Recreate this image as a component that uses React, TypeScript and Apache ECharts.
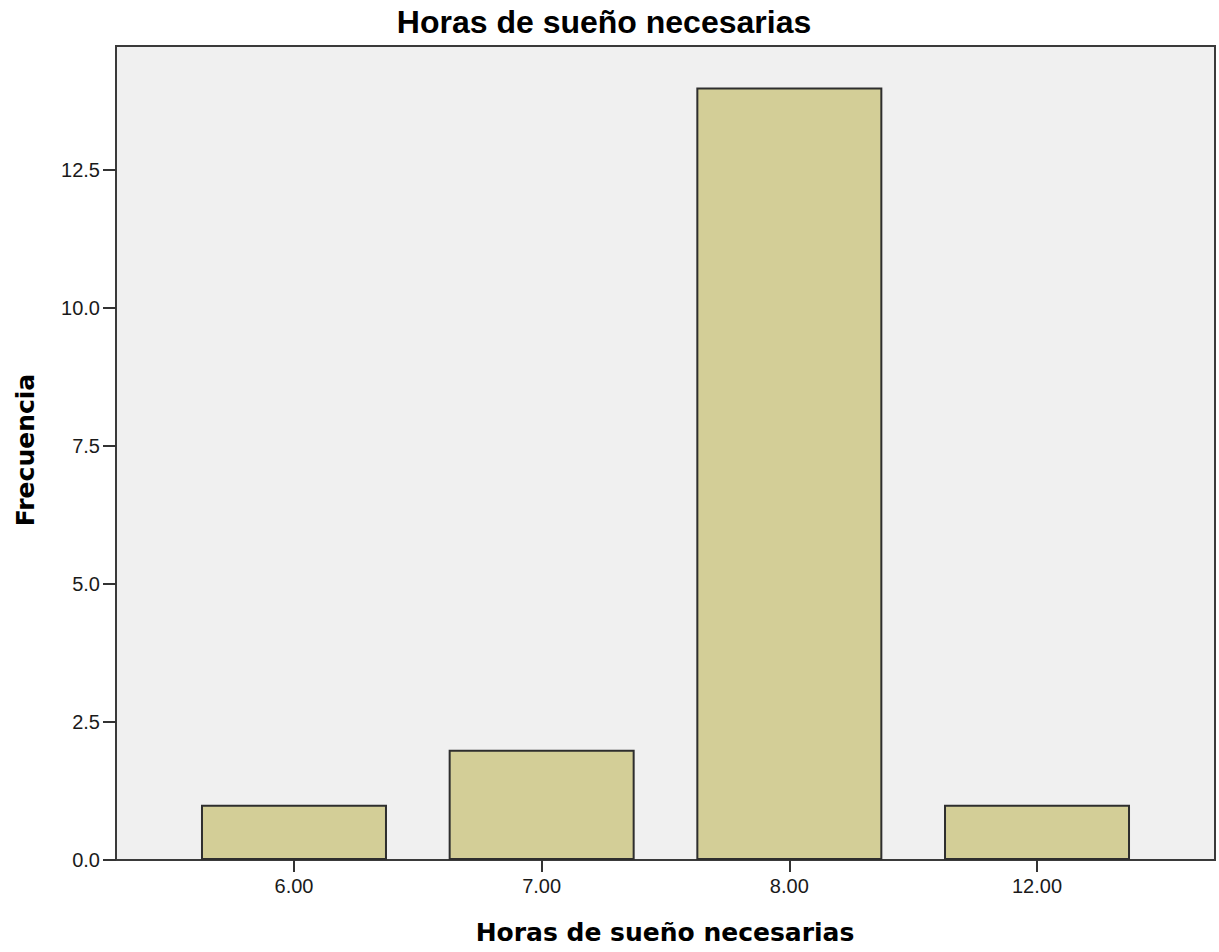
import React, { useEffect, useRef } from "react";
import * as echarts from "echarts";

const categories = ["6.00", "7.00", "8.00", "12.00"];
const frequencies = [1, 2, 14, 1];
const yTicks = [0, 2.5, 5, 7.5, 10, 12.5];
const yMax = 14.75;
const chartTitle = "Horas de sueño necesarias";
const xTitle = "Horas de sueño necesarias";
const yTitle = "Frecuencia";

export default function App() {
  const ref = useRef<HTMLDivElement>(null);
  useEffect(() => {
    if (!ref.current) return;
    const chart = echarts.init(ref.current, null, { renderer: "svg" });
    const labelFont = { fontFamily: "Liberation Sans, Arial, sans-serif", fontSize: 20, color: "#1a1a1a" };
    chart.setOption({
      animation: false,
      backgroundColor: "#ffffff",
      grid: [
        { left: 116, top: 46, width: 1099, height: 814, show: true, backgroundColor: "#f0f0f0", borderColor: "#3a3a3a", borderWidth: 2, z: 0 },
        { left: 170.15, top: 46, width: 990.7, height: 814 },
      ],
      xAxis: [
        { gridIndex: 0, type: "value", min: 0, max: 1, show: false },
        {
          gridIndex: 1,
          type: "category",
          data: categories,
          axisLine: { show: false },
          axisTick: { show: true, alignWithLabel: true, length: 12, lineStyle: { color: "#333", width: 2 } },
          axisLabel: { ...labelFont, margin: 16 },
        },
      ],
      yAxis: [
        {
          gridIndex: 0,
          type: "value",
          min: 0,
          max: yMax,
          axisLine: { show: false },
          splitLine: { show: false },
          axisTick: { show: true, length: 13, customValues: yTicks, lineStyle: { color: "#333", width: 2 } },
          axisLabel: { ...labelFont, margin: 16, customValues: yTicks, formatter: (v: number) => v.toFixed(1) },
        },
        { gridIndex: 1, type: "value", min: 0, max: yMax, show: false },
      ],
      series: [
        {
          type: "bar",
          xAxisIndex: 1,
          yAxisIndex: 1,
          data: frequencies,
          barWidth: 186,
          itemStyle: { color: "#d3ce97", borderColor: "#2e2e2e", borderWidth: 2 },
          z: 3,
        },
      ],
      graphic: [
        {
          type: "text",
          x: 604,
          y: 22,
          style: { text: chartTitle, textAlign: "center", textVerticalAlign: "middle", font: "bold 32px 'Liberation Sans', Arial, sans-serif", fill: "#000" },
        },
        {
          type: "text",
          x: 665,
          y: 932,
          style: { text: xTitle, textAlign: "center", textVerticalAlign: "middle", font: "bold 25px 'DejaVu Sans', sans-serif", fill: "#000" },
        },
        {
          type: "text",
          x: 25,
          y: 450,
          rotation: Math.PI / 2,
          style: { text: yTitle, textAlign: "center", textVerticalAlign: "middle", font: "bold 25px 'DejaVu Sans', sans-serif", fill: "#000" },
        },
      ],
    });
    return () => chart.dispose();
  }, []);
  return <div ref={ref} style={{ position: "absolute", left: 0, top: 0, width: 1219, height: 952 }} />;
}
